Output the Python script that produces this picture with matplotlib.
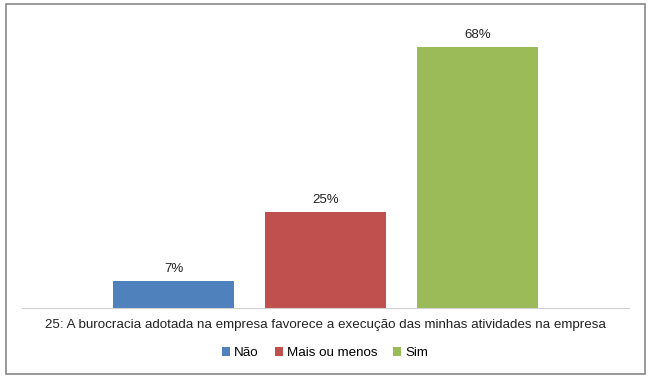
import matplotlib
matplotlib.use('Agg')
import matplotlib.pyplot as plt
from matplotlib.patches import Rectangle

# data
series = ['Não', 'Mais ou menos', 'Sim']
values = [0.07, 0.25, 0.68]
colors = ['#4f81bd', '#c0504d', '#9bbb59']
category = '25: A burocracia adotada na empresa favorece a execução das minhas atividades na empresa'

plt.rcParams['font.family'] = ['Liberation Sans', 'DejaVu Sans']

fig = plt.figure(figsize=(6.51, 3.78), dpi=100)
ax = fig.add_axes([22/651, 1 - 308/378, 607/651, 293/378])

for i, (name, v, c) in enumerate(zip(series, values, colors)):
    ax.bar(i, v, width=0.8, color=c, label=name)
    ax.text(i, v + 0.016, f'{v:.0%}', ha='center', va='bottom', fontsize=9.5, color='#222222')

ax.set_xlim(-1, 3)
ax.set_ylim(0, 0.763)
for s in ['top', 'right', 'left']:
    ax.spines[s].set_visible(False)
ax.spines['bottom'].set_color('#d0d0d0')
ax.set_xticks([])
ax.set_yticks([])

fig.text(325/651, 1 - 325/378, category, ha='center', va='center', fontsize=9.6, color='#222222')

fig.legend(loc='center', bbox_to_anchor=(325/651, 1 - 353/378), ncol=3, frameon=False,
           fontsize=9.6, handlelength=0.6, handleheight=0.6, handletextpad=0.3, columnspacing=1.2)

# outer chart border
fig.patches.append(Rectangle((6/651, 4/378), 639/651, 370/378, transform=fig.transFigure,
                             fill=False, edgecolor='#888888', linewidth=1.2))

fig.savefig('out.png', dpi=100)
